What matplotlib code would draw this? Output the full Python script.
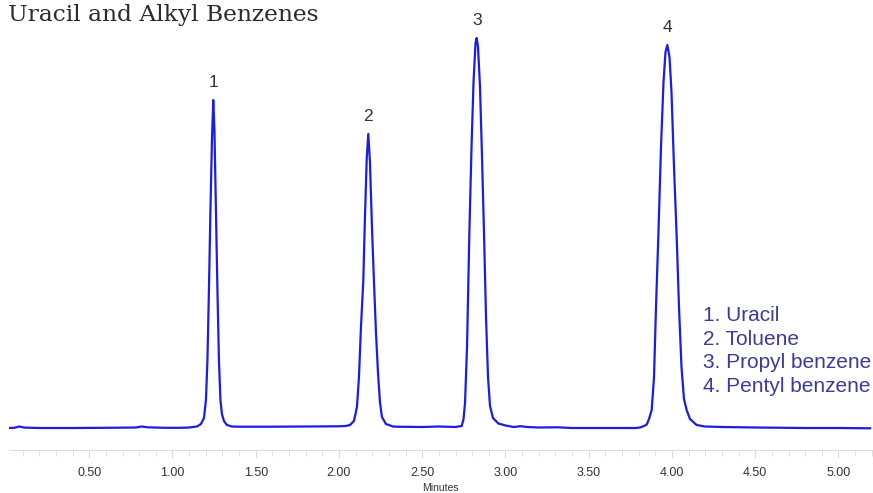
import numpy as np
import matplotlib
matplotlib.use('Agg')
from matplotlib import pyplot as plt
from matplotlib.ticker import MultipleLocator, FormatStrFormatter


# chromatogram (minutes, detector signal)
time_min = [
    0.020, 0.050, 0.080, 0.110, 0.200, 0.400, 0.600, 0.780, 0.815, 0.850,
    0.950, 1.050, 1.100,
    # peak 1
    1.147, 1.171, 1.189, 1.201, 1.210, 1.219, 1.228, 1.237, 1.245, 1.252,
    1.261, 1.270, 1.279, 1.288, 1.297, 1.309, 1.327, 1.357,
    1.400, 1.600, 1.800, 2.000, 2.040,
    # peak 2
    2.066, 2.090, 2.108, 2.120, 2.132, 2.146, 2.156, 2.167, 2.176, 2.186,
    2.198, 2.210, 2.222, 2.234, 2.246, 2.258, 2.282, 2.324,
    2.350, 2.500, 2.600, 2.700,
    # peak 3
    2.715, 2.737, 2.748, 2.757, 2.769, 2.783, 2.796, 2.808, 2.820, 2.827,
    2.835, 2.847, 2.859, 2.871, 2.883, 2.895, 2.907, 2.925, 2.957, 3.000,
    3.050, 3.090, 3.130, 3.200, 3.310, 3.400, 3.600, 3.780,
    # peak 4
    3.808, 3.832, 3.848, 3.862, 3.878, 3.892, 3.904, 3.918, 3.934, 3.949,
    3.961, 3.972, 3.985, 3.997, 4.012, 4.028, 4.042, 4.057, 4.072, 4.088,
    4.108, 4.148, 4.198,
    4.300, 4.500, 4.800, 5.000, 5.190,
]
signal = [
    -1.0, -0.8, 0.5, -0.6, -1.0, -1.0, -0.8, -0.5, 0.5, -0.3,
    -0.8, -0.8, -0.5,
    0.5, 3, 9, 27, 67, 137, 217, 287, 327, 297,
    217, 137, 67, 27, 13, 6, 2, 0.5,
    0.3, 0.3, 0.5, 0.7, 1.0,
    2, 6, 20, 50, 100, 146, 210, 270, 293, 265,
    200, 146, 95, 55, 25, 10, 3, 0.5,
    0.3, 0.0, 0.5, 0.0,
    0.5, 1, 8, 24, 80, 194, 280, 345, 384, 389,
    380, 340, 270, 194, 110, 50, 21, 9, 3.5, 1.5,
    0.0, 0.8, 0.0, -0.5, -0.3, -1.0, -1.0, -1.0,
    -0.5, 1, 2.5, 8, 17, 50, 120, 191, 280, 345,
    375, 382, 370, 335, 260, 191, 120, 60, 28, 17,
    8, 2, 0.5,
    0.0, -0.5, -1.0, -1.0, -1.3,
]

peak_labels = ['1', '2', '3', '4']
peak_times = [1.245, 2.176, 2.827, 3.972]
peak_heights = [327, 293, 389, 382]
compounds = ['1. Uracil', '2. Toluene', '3. Propyl benzene', '4. Pentyl benzene']

plt.rcParams['font.family'] = ['Liberation Sans', 'DejaVu Sans']

fig = plt.figure(figsize=(8.73, 4.93), dpi=100)
ax = fig.add_axes([9.3 / 873, 43 / 493, 862.5 / 873, 450 / 493])

ax.plot(time_min, signal, color='#1c1ce6', lw=1.6)

for lab, t, h in zip(peak_labels, peak_times, peak_heights):
    ax.annotate(lab, (t, h), xytext=(0, 7), textcoords='offset points',
                ha='center', va='bottom', fontsize=12.5, color='#333333')

ax.set_xlim(0.02, 5.2)
ax.set_ylim(-23, 427)

for side in ['top', 'right', 'left']:
    ax.spines[side].set_visible(False)
ax.spines['bottom'].set_color('#dcdcdc')
ax.set_yticks([])

ax.xaxis.set_major_locator(MultipleLocator(0.5))
ax.xaxis.set_minor_locator(MultipleLocator(0.1))
ax.xaxis.set_major_formatter(FormatStrFormatter('%.2f'))
ax.tick_params(axis='x', which='major', length=6, color='#dcdcdc',
               labelsize=9, labelcolor='#333333', pad=6)
ax.tick_params(axis='x', which='minor', length=4, color='#dcdcdc')
ax.set_xlabel('Minutes', fontsize=7.5, color='#333333', labelpad=3)

fig.text(8 / 873, 1 - 4 / 493, 'Uracil and Alkyl Benzenes', family='DejaVu Serif',
         fontsize=16.8, color='#2b2b2b', ha='left', va='top')

for i, c in enumerate(compounds):
    fig.text(703 / 873, 1 - (321 + 23.7 * i) / 493, c, fontsize=15,
             color='#3b3b9e', ha='left', va='baseline')

fig.savefig('out.png', dpi=100)
